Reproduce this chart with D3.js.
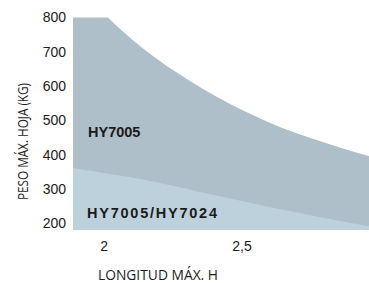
<!DOCTYPE html>
<html>
<head>
<meta charset="utf-8">
<script src="https://cdn.jsdelivr.net/npm/d3@7"></script>
<style>
  html, body { margin: 0; padding: 0; background: #ffffff; }
  svg { display: block; }
</style>
</head>
<body>
<svg id="chart" width="369" height="283"></svg>
<script>
// ---- data ----
const upperLength = [1.889, 2.0, 2.1, 2.2, 2.3, 2.4, 2.5, 2.6, 2.7, 2.8, 2.9, 2.962];
const upperWeight = [900, 812, 738, 675, 621, 573, 531, 494, 462, 435, 410, 396];
const lowerLength = [1.889, 2.0, 2.2, 2.4, 2.6, 2.8, 2.962];
const lowerWeight = [361, 346, 318, 282, 247, 215, 191];
const yTicks = [200, 300, 400, 500, 600, 700, 800];
const xTicks = [2, 2.5];
const xTickLabels = ["2", "2,5"];
const seriesNames = ["HY7005", "HY7005/HY7024"];
const yTitle = "PESO MÁX. HOJA (KG)";
const xTitle = "LONGITUD MÁX. H";

// ---- layout ----
const svg = d3.select("#chart");
const x = d3.scaleLinear().domain([1.889, 2.962]).range([73, 369]);
const y = d3.scaleLinear().domain([180, 800]).range([230, 17.5]);

svg.append("defs").append("clipPath").attr("id", "plotclip")
  .append("rect")
  .attr("x", x.range()[0]).attr("y", y.range()[1])
  .attr("width", x.range()[1] - x.range()[0])
  .attr("height", y.range()[0] - y.range()[1]);

const upper = upperLength.map((l, i) => ({l, w: upperWeight[i]}));
const lower = lowerLength.map((l, i) => ({l, w: lowerWeight[i]}));

const area = d3.area()
  .x(d => x(d.l))
  .y0(y(180))
  .y1(d => y(d.w))
  .curve(d3.curveMonotoneX);

const g = svg.append("g").attr("clip-path", "url(#plotclip)");
g.append("path").datum(upper).attr("d", area).attr("fill", "#aebfc9");
g.append("path").datum(lower).attr("d", area).attr("fill", "#bdd1dd");

// ---- axes ----
const yAxis = d3.axisLeft(y).tickValues(yTicks).tickSize(0).tickPadding(0);
const ya = svg.append("g").attr("transform", "translate(66,0)").call(yAxis);
ya.select(".domain").remove();
ya.selectAll("text")
  .attr("font-family", "'Liberation Sans', Arial, sans-serif")
  .attr("font-size", 14).attr("fill", "#1a1a1a");

const xAxis = d3.axisBottom(x).tickValues(xTicks)
  .tickFormat((d, i) => xTickLabels[i]).tickSize(0).tickPadding(0);
const xa = svg.append("g").attr("transform", "translate(0,240)").call(xAxis);
xa.select(".domain").remove();
xa.selectAll("text")
  .attr("font-family", "'Liberation Sans', Arial, sans-serif")
  .attr("font-size", 14).attr("fill", "#1a1a1a")
  .attr("dy", null).attr("y", 10.7);

// ---- titles ----
svg.append("text")
  .attr("transform", "translate(28,141.5) rotate(-90)")
  .attr("text-anchor", "middle")
  .attr("font-family", "'Open Sans', 'Noto Sans', sans-serif")
  .attr("font-size", 14.5).attr("fill", "#1a1a1a")
  .attr("textLength", 117).attr("lengthAdjust", "spacingAndGlyphs")
  .text(yTitle);

svg.append("text")
  .attr("x", 98).attr("y", 279.5)
  .attr("font-family", "'Open Sans', 'Noto Sans', sans-serif")
  .attr("font-size", 15).attr("fill", "#1a1a1a")
  .attr("textLength", 120).attr("lengthAdjust", "spacingAndGlyphs")
  .text(xTitle);

// ---- series labels ----
svg.append("text")
  .attr("x", 88).attr("y", 137)
  .attr("font-family", "'Liberation Sans', Arial, sans-serif")
  .attr("font-weight", "bold").attr("font-size", 14.5).attr("fill", "#1a1a1a")
  .text(seriesNames[0]);

svg.append("text")
  .attr("x", 87).attr("y", 218)
  .attr("font-family", "'Liberation Sans', Arial, sans-serif")
  .attr("font-weight", "bold").attr("font-size", 14.5).attr("fill", "#1a1a1a")
  .attr("textLength", 130).attr("lengthAdjust", "spacing")
  .text(seriesNames[1]);
</script>
</body>
</html>
